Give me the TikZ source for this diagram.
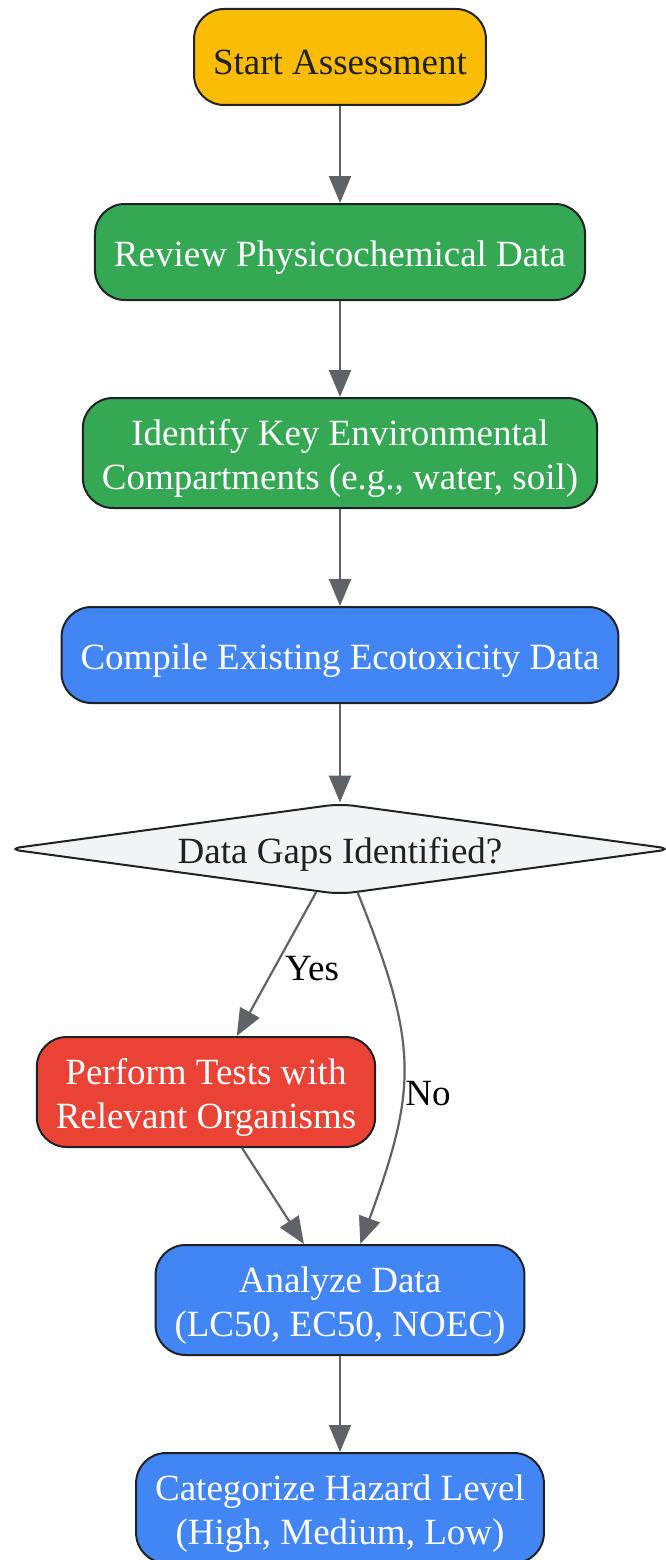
\documentclass[tikz,border=0pt]{standalone}
\usepackage{fontspec}
\setmainfont{Liberation Serif}
\usetikzlibrary{shapes.geometric,arrows.meta}

\definecolor{startyellow}{HTML}{FBBC05}
\definecolor{stepgreen}{HTML}{34A853}
\definecolor{stepblue}{HTML}{4285F4}
\definecolor{stepred}{HTML}{EA4335}
\definecolor{gapgray}{HTML}{F1F3F4}
\definecolor{edgegray}{HTML}{5F6368}
\definecolor{inkdark}{HTML}{202124}

\newcommand{\topstrut}{\rule{0pt}{36pt}}

\begin{document}
\begin{tikzpicture}[x=1pt,y=-1pt,->,>={Triangle[length=27pt,width=22pt]}]

     \tikzstyle{box}=[rectangle,rounded corners=30pt,draw=inkdark,line width=2pt,
        align=center,text=white,inner xsep=19pt,minimum height=96pt,
        font=\fontsize{37}{44}\selectfont]
     \tikzstyle{decide}=[diamond,shape aspect=7.3,rounded corners=14pt,draw=inkdark,line width=2pt,
        fill=gapgray,text=inkdark,minimum width=666pt,minimum height=91pt,inner sep=0pt,
        font=\fontsize{37}{44}\selectfont]
     \tikzstyle{edge}=[draw=edgegray,line width=2.2pt]
     \tikzstyle{lbl}=[text=black,font=\fontsize{37}{44}\selectfont]

      \useasboundingbox (0,0) rectangle (665,1560);

      \begin{scope}
         \node[box,fill=startyellow,text=inkdark] (start) at (340,57) {\topstrut Start Assessment};
         \node[box,fill=stepgreen] (review) at (340,252) {\topstrut Review Physicochemical Data};
         \node[box,fill=stepgreen,minimum height=110pt] (ident) at (340,453) {\topstrut Identify Key Environmental\\Compartments (e.g., water, soil)};
         \node[box,fill=stepblue] (compile) at (340,655) {\topstrut Compile Existing Ecotoxicity Data};

         \node[decide] (gaps) at (340,849) {\topstrut Data Gaps Identified?};

         \node[box,fill=stepred,minimum height=110pt] (perform) at (206,1092) {\topstrut Perform Tests with\\Relevant Organisms};
         \node[box,fill=stepblue,minimum height=110pt] (analyze) at (340,1300) {\topstrut Analyze Data\\(LC50, EC50, NOEC)};
         \node[box,fill=stepblue,minimum height=110pt] (categ) at (340,1508) {\topstrut Categorize Hazard Level\\(High, Medium, Low)};

         \node[lbl] (yes) at (312,969) {Yes};
         \node[lbl] (no) at (428,1094) {No};

         \draw[edge] (start) to (review);
         \draw[edge] (review) to (ident);
         \draw[edge] (ident) to (compile);
         \draw[edge] (compile) to (gaps);
         \draw[edge] (gaps) to (perform);
         \draw[edge] (gaps) to[out=-68,in=70,looseness=1.2] (analyze);
         \draw[edge] (perform) to (analyze);
         \draw[edge] (analyze) to (categ);
      \end{scope}
  \end{tikzpicture}
\end{document}
